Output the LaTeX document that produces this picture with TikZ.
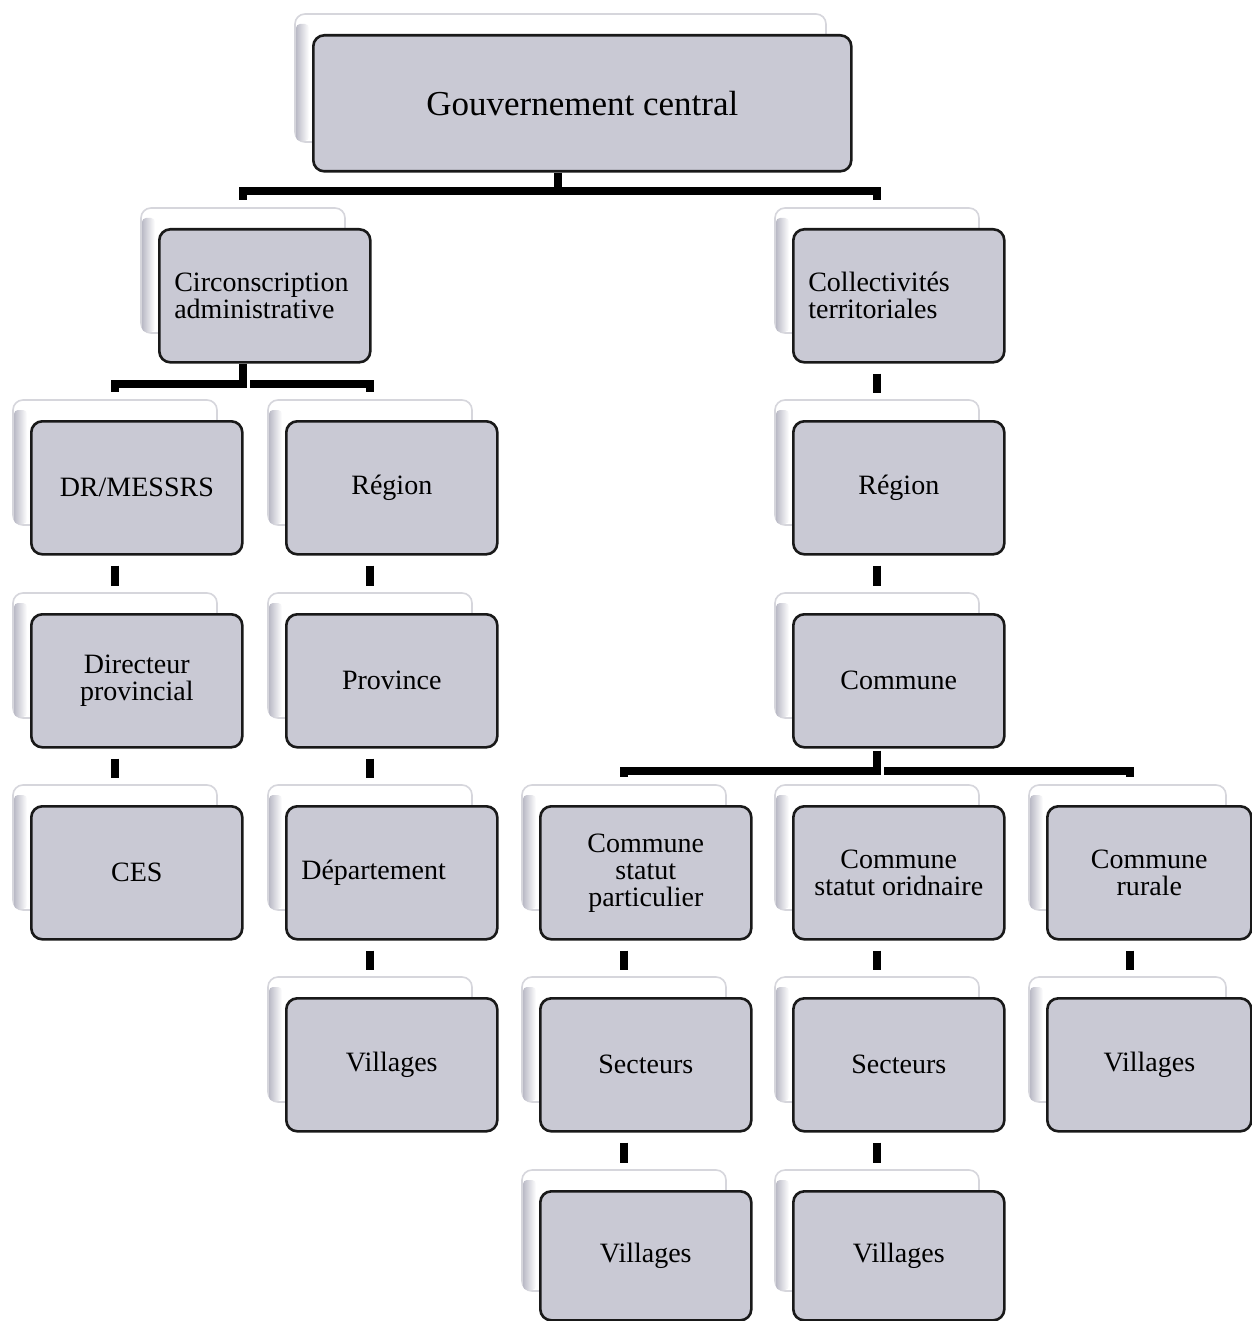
\documentclass[tikz,border=0pt]{standalone}
\usepackage{fontspec}
\setmainfont{Liberation Serif}
\usetikzlibrary{calc}

\definecolor{boxfill}{RGB}{201,201,212}
\definecolor{backedge}{RGB}{186,186,198}
\definecolor{backline}{RGB}{214,214,220}

\tikzset{
  tier/.style={draw=black!90, line width=2.6pt, fill=boxfill, rounded corners=11pt,
    anchor=north west, minimum width=211pt, minimum height=133pt, inner sep=0pt,
    align=center, font=\fontsize{28}{27}\selectfont},
  flushtext/.style={align=left, text width=181pt},
  link/.style={draw=black, line width=8pt},
}

% pale panel sitting behind a front box: left, top, width, height of the front box
\newcommand\backpanel[4]{%
  \fill[white, draw=backline, line width=1.6pt, rounded corners=10pt]
    ({#1-17},{#2-20}) rectangle ({#1+#3-24},{#2+#4-28});
  \shade[left color=backedge, right color=white, rounded corners=4pt]
    ({#1-16},{#2-10}) rectangle ({#1-3},{#2+#4-29});
}

% short vertical link between a box and the one below it
\newcommand\vlink[3][85]{%
  \draw[link] ($(#2.south west)+(#1,10)$) -- ($(#3.north west)+(#1,-27)$);
}

\begin{document}
\begin{tikzpicture}[x=1pt, y=-1pt]
  \fill[white] (0,0) rectangle (1251,1321);
  \useasboundingbox (0,0) rectangle (1251,1321);

  % ---- top level
  \backpanel{312}{34}{538}{136}
  \node[tier, minimum width=538pt, minimum height=136pt, font=\fontsize{35}{40}\selectfont]
    (gov) at (312,34) {Gouvernement central};

  % ---- second level
  \backpanel{158}{228}{211}{133}
  \node[tier, flushtext] (circ) at (158,228) {Circonscription\\administrative};
  \backpanel{792}{228}{211}{133}
  \node[tier, flushtext] (coll) at (792,228) {Collectivités\\territoriales};

  % ---- third level
  \backpanel{30}{420}{211}{133}
  \node[tier] (dr) at (30,420) {DR/MESSRS};
  \backpanel{285}{420}{211}{133}
  \node[tier] (regA) at (285,420) {Région};
  \backpanel{792}{420}{211}{133}
  \node[tier] (regD) at (792,420) {Région};

  % ---- fourth level
  \backpanel{30}{613}{211}{133}
  \node[tier] (dirp) at (30,613) {Directeur\\provincial};
  \backpanel{285}{613}{211}{133}
  \node[tier] (prov) at (285,613) {Province};
  \backpanel{792}{613}{211}{133}
  \node[tier] (comm) at (792,613) {Commune};

  % ---- fifth level
  \backpanel{30}{805}{211}{133}
  \node[tier] (ces) at (30,805) {CES};
  \backpanel{285}{805}{211}{133}
  \node[tier, flushtext] (dept) at (285,805) {Département};
  \backpanel{539}{805}{211}{133}
  \node[tier] (csp) at (539,805) {Commune\\statut\\particulier};
  \backpanel{792}{805}{211}{133}
  \node[tier] (cso) at (792,805) {Commune\\statut oridnaire};
  \backpanel{1046}{805}{204}{133}
  \node[tier, minimum width=204pt] (cru) at (1046,805) {Commune\\rurale};

  % ---- sixth level
  \backpanel{285}{997}{211}{133}
  \node[tier] (vilB) at (285,997) {Villages};
  \backpanel{539}{997}{211}{133}
  \node[tier] (secC) at (539,997) {Secteurs};
  \backpanel{792}{997}{211}{133}
  \node[tier] (secD) at (792,997) {Secteurs};
  \backpanel{1046}{997}{204}{133}
  \node[tier, minimum width=204pt] (vilE) at (1046,997) {Villages};

  % ---- seventh level
  \backpanel{539}{1190}{211}{129}
  \node[tier, minimum height=129pt] (vilC) at (539,1190) {Villages};
  \backpanel{792}{1190}{211}{129}
  \node[tier, minimum height=129pt] (vilD) at (792,1190) {Villages};

  % ---- branching links
  \draw[link] ($(gov.south west)+(246,0)$) -- ++(0,18);
  \draw[link] ($(circ.north west)+(85,-28)$) |- ($(gov.south west)+(246,18)$)
    -| ($(coll.north west)+(85,-28)$);

  \draw[link] ($(circ.south west)+(85,0)$) -- ++(0,20) -| ($(dr.north west)+(85,-28)$);
  \draw[link] ($(circ.south west)+(92,20)$) -| ($(regA.north west)+(85,-28)$);

  \draw[link] ($(comm.south west)+(85,2)$) -- ++(0,20) -| ($(csp.north west)+(85,-28)$);
  \draw[link] ($(comm.south west)+(92,22)$) -| ($(cru.north west)+(84,-28)$);

  % ---- straight links
  \vlink{coll}{regD}
  \vlink{regD}{comm}
  \vlink{dr}{dirp}
  \vlink{dirp}{ces}
  \vlink{regA}{prov}
  \vlink{prov}{dept}
  \vlink{dept}{vilB}
  \vlink{csp}{secC}
  \vlink{secC}{vilC}
  \vlink{cso}{secD}
  \vlink{secD}{vilD}
  \vlink[84]{cru}{vilE}
\end{tikzpicture}
\end{document}
